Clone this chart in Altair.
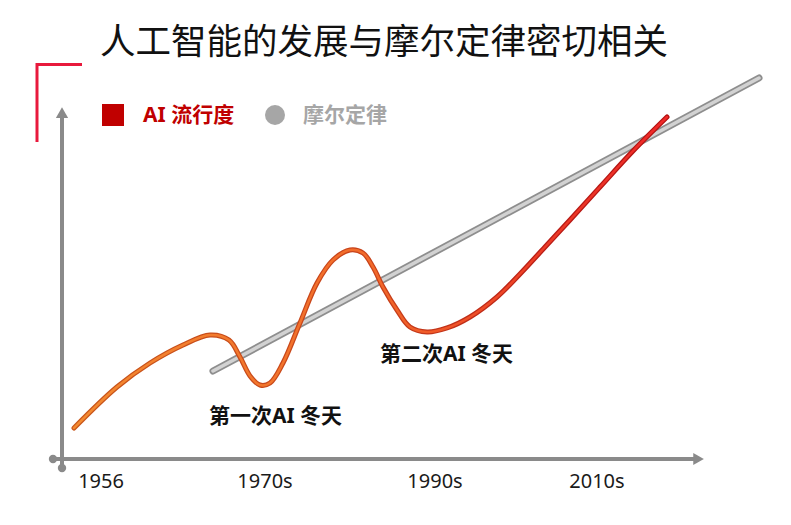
import altair as alt
import pandas as pd

# ---------------- data ----------------
# AI popularity curve (abstract timeline units / popularity units)
ai_x = [1.87, 8.55, 13.69, 18.82, 23.02, 25.97, 27.68, 29.24, 30.79, 32.35,
        34.37, 37.01, 39.66, 42.15, 44.79, 46.81, 48.37, 49.92, 52.10, 54.12,
        56.77, 59.88, 63.45, 67.65, 71.23, 75.12, 79.00, 83.67, 88.80, 94.09]
ai_y = [8.81, 20.45, 27.27, 32.39, 35.23, 33.80, 28.98, 23.60, 21.02, 21.59,
        27.27, 38.64, 50.00, 56.53, 59.38, 58.52, 54.55, 48.86, 42.33, 37.50,
        36.08, 37.22, 40.34, 46.02, 52.56, 60.23, 67.90, 77.27, 87.50, 97.16]

# Moore's law (straight trend)
moore_x = [23.48, 108.4]
moore_y = [25.0, 108.24]

# timeline labels
tick_labels = ["1956", "1970s", "1990s", "2010s"]
tick_x = [6.07, 31.57, 58.01, 83.20]
tick_y = [-6.53, -6.53, -6.53, -6.53]

# annotations
note_text = ["第一次AI 冬天", "第二次AI 冬天"]
note_x = [33.2, 59.8]
note_y = [11.93, 29.55]

title_text = "人工智能的发展与摩尔定律密切相关"
legend_labels = ["AI 流行度", "摩尔定律"]
legend_colors = ["#c00000", "#a6a6a6"]

# ---------------- scales ----------------
xs = alt.Scale(domain=[-8.398, 112.131], nice=False, zero=False)
ys = alt.Scale(domain=[-16.477, 128.125], nice=False, zero=False)

ai_df = pd.DataFrame({"x": ai_x, "y": ai_y})
moore_df = pd.DataFrame({"x": moore_x, "y": moore_y})
tick_df = pd.DataFrame({"label": tick_labels, "x": tick_x, "y": tick_y})
note_df = pd.DataFrame({"label": note_text, "x": note_x, "y": note_y})

FONT = "Noto Sans, Noto Sans CJK SC"
AXIS_C = "#8a8a8a"

def XY(df_x="x", df_y="y"):
    return dict(x=alt.X(f"{df_x}:Q", scale=xs, axis=None),
                y=alt.Y(f"{df_y}:Q", scale=ys, axis=None))

# axes (arrows)
xaxis_df = pd.DataFrame({"x": [-1.40], "x2": [98.9], "y": [0.0]})
yaxis_df = pd.DataFrame({"x": [0.0], "y": [-2.56], "y2": [98.3]})
xaxis = alt.Chart(xaxis_df).mark_rule(color=AXIS_C, strokeWidth=4).encode(
    x=alt.X("x:Q", scale=xs, axis=None), x2="x2:Q",
    y=alt.Y("y:Q", scale=ys, axis=None))
yaxis = alt.Chart(yaxis_df).mark_rule(color=AXIS_C, strokeWidth=4).encode(
    x=alt.X("x:Q", scale=xs, axis=None),
    y=alt.Y("y:Q", scale=ys, axis=None), y2="y2:Q")
xarrow = alt.Chart(pd.DataFrame({"x": [99.0], "y": [0.0]})).mark_point(
    shape="triangle-right", filled=True, color=AXIS_C, size=150, opacity=1).encode(**XY())
yarrow = alt.Chart(pd.DataFrame({"x": [0.0], "y": [98.4]})).mark_point(
    shape="triangle-up", filled=True, color=AXIS_C, size=150, opacity=1).encode(**XY())
dots = alt.Chart(pd.DataFrame({"x": [-1.40, 0.0], "y": [0.0, -2.56]})).mark_circle(
    color=AXIS_C, size=70, opacity=1).encode(**XY())

# Moore line (tube look)
moore_outer = alt.Chart(moore_df).mark_line(
    color="#8e8e8e", strokeWidth=7, strokeCap="round").encode(**XY())
moore_inner = alt.Chart(moore_df).mark_line(
    color="#d2d2d2", strokeWidth=3.5, strokeCap="round").encode(**XY())

# AI curve with gradient
outer_grad = alt.Gradient(
    gradient="linear", x1=0, x2=1, y1=0, y2=0,
    stops=[alt.GradientStop(color="#c8561a", offset=0),
           alt.GradientStop(color="#c8421a", offset=0.5),
           alt.GradientStop(color="#b81c16", offset=0.8),
           alt.GradientStop(color="#b01010", offset=1)])
inner_grad = alt.Gradient(
    gradient="linear", x1=0, x2=1, y1=0, y2=0,
    stops=[alt.GradientStop(color="#f38a30", offset=0),
           alt.GradientStop(color="#f26a2a", offset=0.5),
           alt.GradientStop(color="#ec3a26", offset=0.8),
           alt.GradientStop(color="#ee2828", offset=1)])
ai_outer = alt.Chart(ai_df).mark_line(
    color=outer_grad, strokeWidth=5, interpolate="catmull-rom", strokeCap="round").encode(**XY())
ai_inner = alt.Chart(ai_df).mark_line(
    color=inner_grad, strokeWidth=2.5, interpolate="catmull-rom", strokeCap="round").encode(**XY())

# tick labels and annotations
ticks = alt.Chart(tick_df).mark_text(
    font=FONT, fontSize=20, color="#1a1a1a", align="center", baseline="middle").encode(
    text="label:N", **XY())
notes = alt.Chart(note_df).mark_text(
    font=FONT, fontSize=21, fontWeight="bold", color="#111111",
    align="center", baseline="middle").encode(text="label:N", **XY())

one = alt.Data(values=[{}])
# title
title = alt.Chart(one).mark_text(
    text=title_text, font="Noto Sans CJK SC", fontSize=35.5, color="#111111",
    align="left", baseline="middle").encode(x=alt.value(92), y=alt.value(35))

# red corner bracket
br_h = alt.Chart(one).mark_rule(color="#e8193c", strokeWidth=3).encode(
    x=alt.value(29), x2=alt.value(74), y=alt.value(56.5))
br_v = alt.Chart(one).mark_rule(color="#e8193c", strokeWidth=3).encode(
    x=alt.value(29), y=alt.value(55), y2=alt.value(134))

# legend
leg_sq = alt.Chart(one).mark_square(color=legend_colors[0], size=484, opacity=1).encode(
    x=alt.value(105), y=alt.value(107))
leg_ci = alt.Chart(one).mark_circle(color=legend_colors[1], size=400, opacity=1).encode(
    x=alt.value(267), y=alt.value(107))
leg_t1 = alt.Chart(one).mark_text(
    text=legend_labels[0], font=FONT, fontSize=21, fontWeight="bold",
    color=legend_colors[0], align="left", baseline="middle").encode(
    x=alt.value(135), y=alt.value(108))
leg_t2 = alt.Chart(one).mark_text(
    text=legend_labels[1], font=FONT, fontSize=21, fontWeight="bold",
    color=legend_colors[1], align="left", baseline="middle").encode(
    x=alt.value(295), y=alt.value(108))

chart = alt.layer(
    br_h, br_v, title, leg_sq, leg_ci, leg_t1, leg_t2,
    xaxis, yaxis, xarrow, yarrow, dots,
    moore_outer, moore_inner, ai_outer, ai_inner,
    ticks, notes
).properties(
    width=775, height=509,
    autosize=alt.AutoSizeParams(type="none"),
    padding=0, background="white"
).configure_view(stroke=None)

chart.save("out.html", embed_options={"renderer": "svg", "actions": False})
